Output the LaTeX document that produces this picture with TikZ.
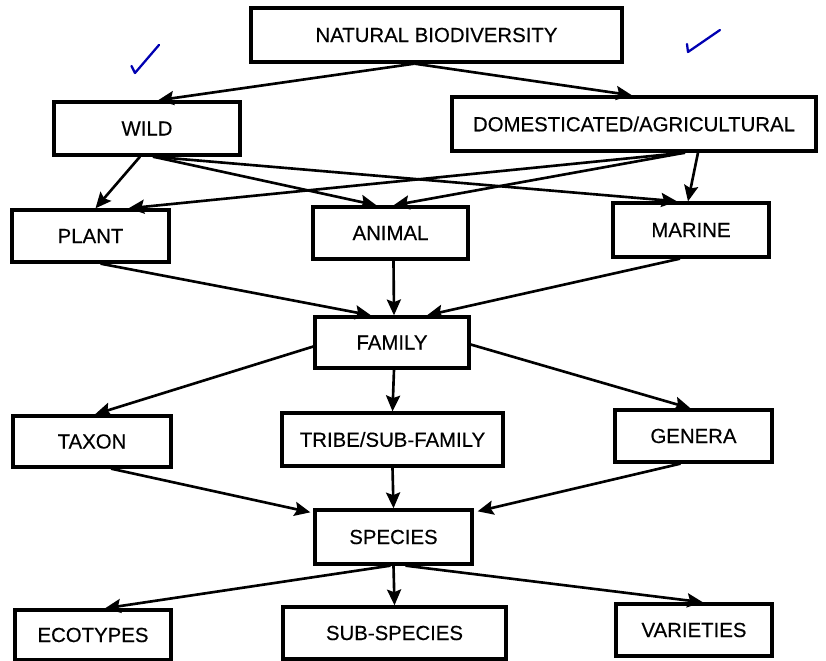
\documentclass[tikz,border=0pt]{standalone}
\usepackage{fontspec}
\setmainfont{Liberation Sans}[FakeBold=0.4]
\usetikzlibrary{arrows.meta,calc}

\begin{document}
\begin{tikzpicture}[x=0.02cm,y=-0.02cm,
    box/.style={draw,line width=1.9pt,inner sep=0pt,font=\fontsize{11.6}{14}\selectfont},
    link/.style={line width=1.5pt,-{Stealth[length=9pt,width=8pt,inset=1.5pt]}},
    tick/.style={draw=blue!70!black,line width=1.3pt,line cap=round,line join=round}]
    \useasboundingbox (0,0) rectangle (826,661);

    % The boxes
    \node[box,minimum width=7.42cm,minimum height=1.08cm] (nb) at (436.5,35) {NATURAL BIODIVERSITY};
    \node[box,minimum width=3.72cm,minimum height=1.06cm] (wild) at (147,128.5) {WILD};
    \node[box,minimum width=7.28cm,minimum height=1.08cm] (dom) at (634,124) {DOMESTICATED/AGRICULTURAL};
    \node[box,minimum width=3.14cm,minimum height=1.04cm] (plant) at (90.5,236) {PLANT};
    \node[box,minimum width=3.10cm,minimum height=1.04cm] (animal) at (390.5,233) {ANIMAL};
    \node[box,minimum width=3.12cm,minimum height=1.08cm] (marine) at (691,230) {MARINE};
    \node[box,minimum width=3.08cm,minimum height=1.02cm] (family) at (392,342.5) {FAMILY};
    \node[box,minimum width=3.16cm,minimum height=1.02cm] (taxon) at (92,441.5) {TAXON};
    \node[box,minimum width=4.42cm,minimum height=1.06cm] (tribe) at (392.5,439.5) {TRIBE/SUB-FAMILY};
    \node[box,minimum width=3.14cm,minimum height=1.04cm] (genera) at (693.5,436) {GENERA};
    \node[box,minimum width=3.14cm,minimum height=1.08cm] (species) at (393.5,537) {SPECIES};
    \node[box,minimum width=3.12cm,minimum height=1.00cm] (ecotypes) at (93,635) {ECOTYPES};
    \node[box,minimum width=4.46cm,minimum height=1.04cm] (subsp) at (394.5,633) {SUB-SPECIES};
    \node[box,minimum width=3.12cm,minimum height=1.04cm] (varieties) at (694,630) {VARIETIES};

    % Where the arrows leave the boxes
    \coordinate (nbout) at ($(nb.south)+(-22,0)$);
    \coordinate (wildout) at ($(wild.south)+(6,0)$);
    \coordinate (domout) at ($(dom.south)+(51,0)$);

    % First level
    \draw[link] (nbout) -- ($(wild.north)+(11,0)$);
    \draw[link] (nbout) -- ($(dom.north)+(-2,0)$);

    % Second level
    \draw[link] ($(wild.south)+(-7,0)$) -- ($(plant.north)+(5,0)$);
    \draw[link] (wildout) -- ($(animal.north)+(-14,0)$);
    \draw[link] (wildout) -- ($(marine.north)+(-14,0)$);
    \draw[link] (domout) -- ($(plant.north)+(38,0)$);
    \draw[link] (domout) -- ($(animal.north)+(3,0)$);
    \draw[link] ($(dom.south)+(64,0)$) -- ($(marine.north)+(-3,0)$);

    % Into family
    \draw[link] ($(plant.south)+(10,0)$) -- ($(family.north)+(-21,0)$);
    \draw[link] ($(animal.south)+(3,0)$) -- ($(family.north)+(2,0)$);
    \draw[link] ($(marine.south)+(-11,0)$) -- ($(family.north)+(35,0)$);

    % Out of family
    \draw[link] ($(family.west)+(0,4)$) -- ($(taxon.north)+(3,0)$);
    \draw[link] ($(family.south)+(2,0)$) -- (tribe.north);
    \draw[link] ($(family.east)+(0,2)$) -- ($(genera.north)+(-3,0)$);

    % Into species
    \draw[link] ($(taxon.south)+(19,0)$) -- ($(species.north west)+(-3,4)$);
    \draw[link] (tribe.south) -- (species.north);
    \draw[link] ($(genera.south)+(-13,0)$) -- ($(species.north east)+(4,3)$);

    % Out of species
    \draw[link] ($(species.south)+(-3,0)$) -- ($(ecotypes.north)+(12,0)$);
    \draw[link] (species.south) -- (subsp.north);
    \draw[link] ($(species.south)+(12,0)$) -- ($(varieties.north)+(9,0)$);

    % The ticks
    \draw[tick] (131.5,66) -- (135,73) -- (159,45);
    \draw[tick] (687,44) -- (688,52) -- (720,30);
\end{tikzpicture}
\end{document}
